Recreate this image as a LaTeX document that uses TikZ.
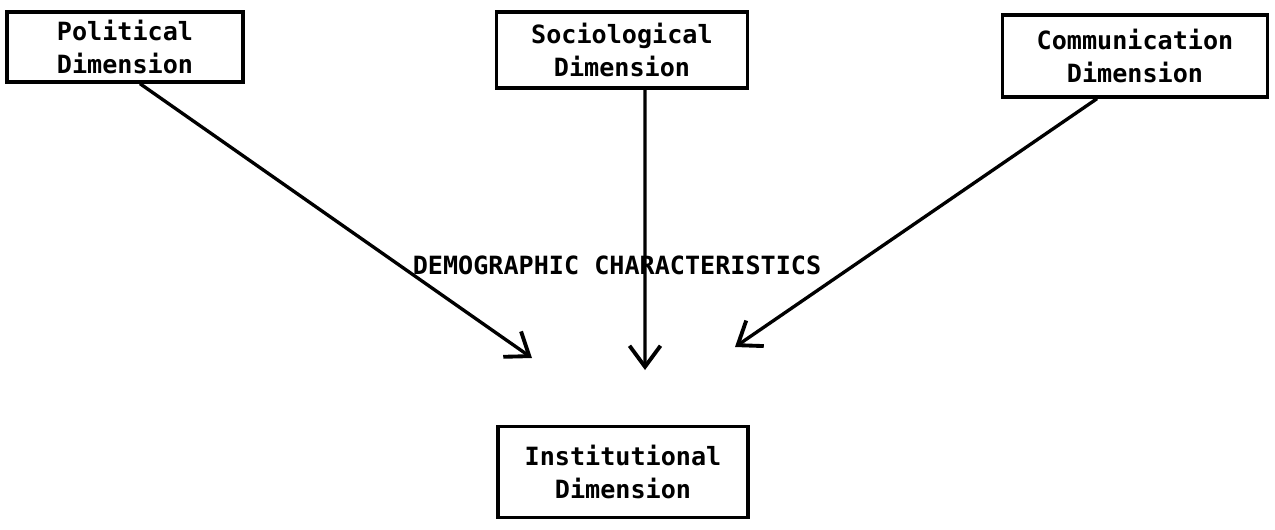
\documentclass[tikz,border=0pt]{standalone}
\usepackage{fontspec}
\setmonofont{DejaVu Sans Mono}
\usetikzlibrary{arrows.meta}
\begin{document}
\begin{tikzpicture}[x=0.02cm,y=-0.02cm,
  dimbox/.style={draw, line width=1.9pt, align=center, inner sep=0pt,
    font=\ttfamily\bfseries\fontsize{14.3}{18.5}\selectfont},
  arr/.style={line width=1.9pt, -{Straight Barb[length=0.42cm,width=0.62cm,line width=2.2pt]}},
  lbl/.style={font=\ttfamily\bfseries\fontsize{14.3}{18}\selectfont, inner sep=0pt}]
\useasboundingbox (0,0) rectangle (1275,529);
\node[dimbox, minimum width=4.72cm, minimum height=1.4cm] (pol) at (125,47) {Political\\Dimension};
\node[dimbox, minimum width=5.02cm, minimum height=1.52cm] (soc) at (622,50) {Sociological\\Dimension};
\node[dimbox, minimum width=5.3cm, minimum height=1.64cm] (com) at (1135,56) {Communication\\Dimension};
\node[dimbox, minimum width=5cm, minimum height=1.82cm] (ins) at (623,472) {Institutional\\Dimension};
\coordinate (t1) at (532,358);
\coordinate (t2) at (645,370);
\coordinate (t3) at (735,347);
\draw[arr] ([xshift=0.3cm]pol.south) -- (t1);
\draw[arr] ([xshift=0.46cm]soc.south) -- (t2);
\draw[arr] ([xshift=-0.76cm]com.south) -- (t3);
\node[lbl] (demo) at (617,265) {DEMOGRAPHIC CHARACTERISTICS};
\end{tikzpicture}
\end{document}
